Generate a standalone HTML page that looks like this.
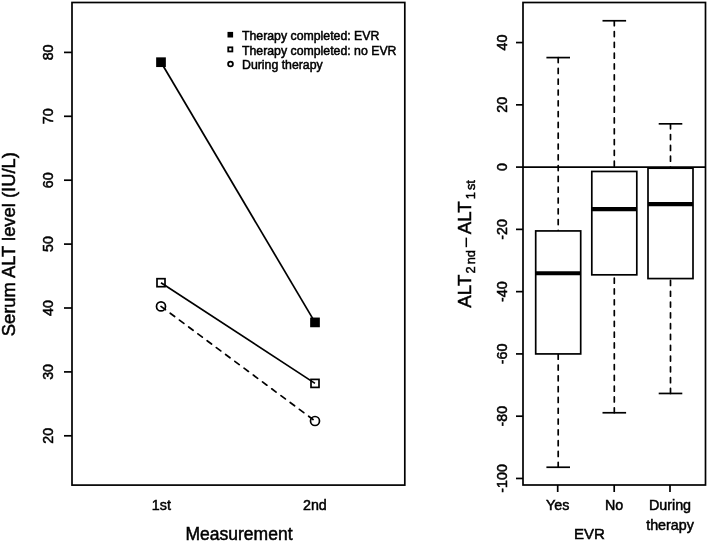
<!DOCTYPE html>
<html><head><meta charset="utf-8"><style>
html,body{margin:0;padding:0;background:#fff;}
body{width:708px;height:542px;overflow:hidden;}
svg{display:block;filter:grayscale(1);}
text{font-family:"Liberation Sans", sans-serif;fill:#000;stroke:#000;stroke-width:0.5px;}
</style></head><body>
<svg width="708" height="542" viewBox="0 0 708 542">
<rect x="72" y="2.5" width="332.80" height="482.60" fill="none" stroke="#000" stroke-width="1.7"/>
<line x1="64" y1="435.80" x2="72" y2="435.80" stroke="#000" stroke-width="1.7"/>
<text x="53.2" y="435.80" transform="rotate(-90 53.2 435.80)" text-anchor="middle" font-size="14.3">20</text>
<line x1="64" y1="371.90" x2="72" y2="371.90" stroke="#000" stroke-width="1.7"/>
<text x="53.2" y="371.90" transform="rotate(-90 53.2 371.90)" text-anchor="middle" font-size="14.3">30</text>
<line x1="64" y1="308.00" x2="72" y2="308.00" stroke="#000" stroke-width="1.7"/>
<text x="53.2" y="308.00" transform="rotate(-90 53.2 308.00)" text-anchor="middle" font-size="14.3">40</text>
<line x1="64" y1="244.10" x2="72" y2="244.10" stroke="#000" stroke-width="1.7"/>
<text x="53.2" y="244.10" transform="rotate(-90 53.2 244.10)" text-anchor="middle" font-size="14.3">50</text>
<line x1="64" y1="180.20" x2="72" y2="180.20" stroke="#000" stroke-width="1.7"/>
<text x="53.2" y="180.20" transform="rotate(-90 53.2 180.20)" text-anchor="middle" font-size="14.3">60</text>
<line x1="64" y1="116.30" x2="72" y2="116.30" stroke="#000" stroke-width="1.7"/>
<text x="53.2" y="116.30" transform="rotate(-90 53.2 116.30)" text-anchor="middle" font-size="14.3">70</text>
<line x1="64" y1="52.40" x2="72" y2="52.40" stroke="#000" stroke-width="1.7"/>
<text x="53.2" y="52.40" transform="rotate(-90 53.2 52.40)" text-anchor="middle" font-size="14.3">80</text>
<text x="15.4" y="244.2" transform="rotate(-90 15.4 244.2)" text-anchor="middle" font-size="18.4">Serum ALT level (IU/L)</text>
<text x="161.4" y="509.8" text-anchor="middle" font-size="14.3">1st</text>
<text x="314.9" y="509.8" text-anchor="middle" font-size="14.3">2nd</text>
<text x="239" y="539.7" text-anchor="middle" font-size="17.5">Measurement</text>
<line x1="161" y1="62.2" x2="315" y2="322.4" stroke="#000" stroke-width="1.7"/>
<line x1="161" y1="282.7" x2="315" y2="383.4" stroke="#000" stroke-width="1.7"/>
<line x1="161" y1="306.4" x2="315" y2="421" stroke="#000" stroke-width="1.7" stroke-dasharray="5.5 6" stroke-linecap="round"/>
<rect x="156.15" y="57.35" width="9.7" height="9.7" fill="#000"/>
<rect x="310.15" y="317.55" width="9.7" height="9.7" fill="#000"/>
<rect x="157.00" y="278.70" width="8.0" height="8.0" fill="none" stroke="#000" stroke-width="1.7"/>
<rect x="311.00" y="379.40" width="8.0" height="8.0" fill="none" stroke="#000" stroke-width="1.7"/>
<circle cx="161" cy="306.4" r="4.5" fill="none" stroke="#000" stroke-width="1.7"/>
<circle cx="315" cy="421" r="4.5" fill="none" stroke="#000" stroke-width="1.7"/>
<rect x="227.50" y="31.90" width="5.6" height="5.6" fill="#000"/>
<rect x="228.25" y="47.35" width="4.1" height="4.1" fill="none" stroke="#000" stroke-width="1.8"/>
<circle cx="230.5" cy="64" r="2.4" fill="none" stroke="#000" stroke-width="1.8"/>
<text x="242" y="40.3" font-size="12.3">Therapy completed: EVR</text>
<text x="242" y="54.5" font-size="12.3">Therapy completed: no EVR</text>
<text x="242" y="68.8" font-size="12.3">During therapy</text>
<rect x="523" y="2.5" width="182.50" height="482.50" fill="none" stroke="#000" stroke-width="1.7"/>
<line x1="516" y1="478.46" x2="523" y2="478.46" stroke="#000" stroke-width="1.7"/>
<text x="507.5" y="478.46" transform="rotate(-90 507.5 478.46)" text-anchor="middle" font-size="14.3">-100</text>
<line x1="516" y1="416.19" x2="523" y2="416.19" stroke="#000" stroke-width="1.7"/>
<text x="507.5" y="416.19" transform="rotate(-90 507.5 416.19)" text-anchor="middle" font-size="14.3">-80</text>
<line x1="516" y1="353.92" x2="523" y2="353.92" stroke="#000" stroke-width="1.7"/>
<text x="507.5" y="353.92" transform="rotate(-90 507.5 353.92)" text-anchor="middle" font-size="14.3">-60</text>
<line x1="516" y1="291.64" x2="523" y2="291.64" stroke="#000" stroke-width="1.7"/>
<text x="507.5" y="291.64" transform="rotate(-90 507.5 291.64)" text-anchor="middle" font-size="14.3">-40</text>
<line x1="516" y1="229.37" x2="523" y2="229.37" stroke="#000" stroke-width="1.7"/>
<text x="507.5" y="229.37" transform="rotate(-90 507.5 229.37)" text-anchor="middle" font-size="14.3">-20</text>
<line x1="516" y1="167.10" x2="523" y2="167.10" stroke="#000" stroke-width="1.7"/>
<text x="507.5" y="167.10" transform="rotate(-90 507.5 167.10)" text-anchor="middle" font-size="14.3">0</text>
<line x1="516" y1="104.83" x2="523" y2="104.83" stroke="#000" stroke-width="1.7"/>
<text x="507.5" y="104.83" transform="rotate(-90 507.5 104.83)" text-anchor="middle" font-size="14.3">20</text>
<line x1="516" y1="42.56" x2="523" y2="42.56" stroke="#000" stroke-width="1.7"/>
<text x="507.5" y="42.56" transform="rotate(-90 507.5 42.56)" text-anchor="middle" font-size="14.3">40</text>
<line x1="523" y1="167.10" x2="705.5" y2="167.10" stroke="#000" stroke-width="1.7"/>
<line x1="558.2" y1="57.59" x2="558.2" y2="230.93" stroke="#000" stroke-width="1.7" stroke-dasharray="5 5.8" stroke-linecap="round"/>
<line x1="558.2" y1="467.25" x2="558.2" y2="353.92" stroke="#000" stroke-width="1.7" stroke-dasharray="5 5.8" stroke-linecap="round"/>
<line x1="546.40" y1="57.59" x2="570.00" y2="57.59" stroke="#000" stroke-width="1.7"/>
<line x1="546.40" y1="467.25" x2="570.00" y2="467.25" stroke="#000" stroke-width="1.7"/>
<rect x="535.70" y="230.93" width="45.0" height="122.99" fill="#fff" stroke="#000" stroke-width="1.7"/>
<line x1="535.70" y1="273.27" x2="580.70" y2="273.27" stroke="#000" stroke-width="4.2"/>
<line x1="614.3" y1="20.76" x2="614.3" y2="171.46" stroke="#000" stroke-width="1.7" stroke-dasharray="5 5.8" stroke-linecap="round"/>
<line x1="614.3" y1="412.76" x2="614.3" y2="274.83" stroke="#000" stroke-width="1.7" stroke-dasharray="5 5.8" stroke-linecap="round"/>
<line x1="602.50" y1="20.76" x2="626.10" y2="20.76" stroke="#000" stroke-width="1.7"/>
<line x1="602.50" y1="412.76" x2="626.10" y2="412.76" stroke="#000" stroke-width="1.7"/>
<rect x="591.80" y="171.46" width="45.0" height="103.37" fill="#fff" stroke="#000" stroke-width="1.7"/>
<line x1="591.80" y1="209.13" x2="636.80" y2="209.13" stroke="#000" stroke-width="4.2"/>
<line x1="670.5" y1="123.82" x2="670.5" y2="168.19" stroke="#000" stroke-width="1.7" stroke-dasharray="5 5.8" stroke-linecap="round"/>
<line x1="670.5" y1="393.46" x2="670.5" y2="278.57" stroke="#000" stroke-width="1.7" stroke-dasharray="5 5.8" stroke-linecap="round"/>
<line x1="658.70" y1="123.82" x2="682.30" y2="123.82" stroke="#000" stroke-width="1.7"/>
<line x1="658.70" y1="393.46" x2="682.30" y2="393.46" stroke="#000" stroke-width="1.7"/>
<rect x="648.00" y="168.19" width="45.0" height="110.38" fill="#fff" stroke="#000" stroke-width="1.7"/>
<line x1="648.00" y1="204.15" x2="693.00" y2="204.15" stroke="#000" stroke-width="4.2"/>
<line x1="557.7" y1="485" x2="557.7" y2="492" stroke="#000" stroke-width="1.7"/>
<line x1="614.2" y1="485" x2="614.2" y2="492" stroke="#000" stroke-width="1.7"/>
<line x1="670" y1="485" x2="670" y2="492" stroke="#000" stroke-width="1.7"/>
<text x="557.7" y="509.7" text-anchor="middle" font-size="14.3">Yes</text>
<text x="614.2" y="509.7" text-anchor="middle" font-size="14.3">No</text>
<text x="670" y="509.7" text-anchor="middle" font-size="14.3">During</text>
<text x="670" y="529.7" text-anchor="middle" font-size="14.3">therapy</text>
<text x="589.5" y="539.3" text-anchor="middle" font-size="15">EVR</text>
<g transform="translate(470.8 307.7) rotate(-90)">
<text x="0" y="0" font-size="18.8">ALT</text>
<text x="34.2" y="4.4" font-size="12.9">2</text>
<text x="43.4" y="4.4" font-size="12.9">nd</text>
<text x="73.4" y="0" font-size="18.8">ALT</text>
<text x="108.4" y="4.4" font-size="12.9">1</text>
<text x="117.6" y="4.4" font-size="12.9">st</text>
</g>
<line x1="466.3" y1="237.6" x2="466.3" y2="247.2" stroke="#000" stroke-width="1.5"/>
</svg>
</body></html>
